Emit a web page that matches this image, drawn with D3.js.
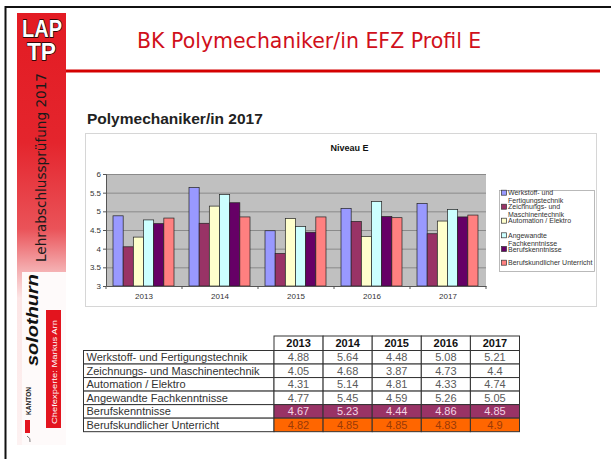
<!DOCTYPE html>
<html><head><meta charset="utf-8">
<script src="https://cdn.jsdelivr.net/npm/d3@7"></script>
<style>html,body{margin:0;padding:0;background:#fff;}svg{display:block;}</style>
</head><body>
<svg id="c" width="611" height="459"></svg>
<script>
const years = ["2013","2014","2015","2016","2017"];
const seriesNames = ["Werkstoff- und Fertigungstechnik","Zeichnungs- und Maschinentechnik","Automation / Elektro","Angewandte Fachkenntnisse","Berufskenntnisse","Berufskundlicher Unterricht"];
const legendLines = [["Werkstoff- und","Fertigungstechnik"],["Zeichnungs- und","Maschinentechnik"],["Automation / Elektro"],["Angewandte","Fachkenntnisse"],["Berufskenntnisse"],["Berufskundlicher Unterricht"]];
const werkstoff = [4.88,5.64,4.48,5.08,5.21];
const zeichnungs = [4.05,4.68,3.87,4.73,4.4];
const automation = [4.31,5.14,4.81,4.33,4.74];
const angewandte = [4.77,5.45,4.59,5.26,5.05];
const berufskenntnisse = [4.67,5.23,4.44,4.86,4.85];
const berufskundlicher = [4.82,4.85,4.85,4.83,4.9];
const seriesValues = [werkstoff,zeichnungs,automation,angewandte,berufskenntnisse,berufskundlicher];
const yTicks = [3,3.5,4,4.5,5,5.5,6];
const colors = ["#9999ff","#993366","#ffffcc","#ccffff","#660066","#ff8080"];

const svg = d3.select("#c");
const W=611,H=459;
svg.append("rect").attr("width",W).attr("height",H).attr("fill","#fff");

// ---------- slide frame ----------
const defs = svg.append("defs");
const g1 = defs.append("linearGradient").attr("id","sb").attr("x1",0).attr("y1",0).attr("x2",0).attr("y2",1);
[[0,"#e31b23"],[0.3,"#e4252d"],[0.5,"#ea5359"],[0.6,"#f5b3b5"],[0.66,"#fce6e6"],[1,"#fdf2f2"]].forEach(s=>g1.append("stop").attr("offset",s[0]).attr("stop-color",s[1]));
svg.append("rect").attr("x",17).attr("y",13).attr("width",49).attr("height",432).attr("fill","url(#sb)");
svg.append("rect").attr("x",22).attr("y",272).attr("width",44).attr("height",173).attr("fill","#fefafa");
svg.append("line").attr("x1",5).attr("x2",611).attr("y1",7).attr("y2",7).attr("stroke","#111").attr("stroke-width",2);
svg.append("line").attr("x1",5.5).attr("x2",5.5).attr("y1",6).attr("y2",459).attr("stroke","#111").attr("stroke-width",2);
svg.append("line").attr("x1",66).attr("x2",600).attr("y1",71).attr("y2",71).attr("stroke","#d40000").attr("stroke-width",3);

const lap = svg.append("g").attr("font-family","Liberation Sans, Arial, sans-serif").attr("font-weight","bold").attr("font-size",23)
  .attr("fill","#fff").attr("stroke","#000").attr("stroke-width",1.3).attr("paint-order","stroke").attr("text-anchor","middle");
lap.append("text").attr("x",42).attr("y",37).attr("textLength",40).attr("lengthAdjust","spacingAndGlyphs").text("LAP");
lap.append("text").attr("x",41.5).attr("y",60).attr("textLength",29).attr("lengthAdjust","spacingAndGlyphs").text("TP");

svg.append("text").attr("transform","translate(46,262) rotate(-90)").attr("font-family","DejaVu Sans, Verdana, sans-serif")
  .attr("font-size",13.6).attr("fill","#1a1a1a").text("Lehrabschlussprüfung 2017");
svg.append("text").attr("transform","translate(37.5,366) rotate(-90)").attr("font-family","Liberation Sans, Arial, sans-serif")
  .attr("font-size",16).attr("font-weight","bold").attr("font-style","italic").attr("fill","#111")
  .attr("textLength",92).attr("lengthAdjust","spacingAndGlyphs").text("solothurn");
svg.append("text").attr("transform","translate(31,415) rotate(-90)").attr("font-family","Liberation Sans, Arial, sans-serif")
  .attr("font-size",6.5).attr("font-weight","bold").attr("fill","#222")
  .attr("textLength",28).attr("lengthAdjust","spacing").text("KANTON");
svg.append("rect").attr("x",46).attr("y",310).attr("width",15).attr("height",118).attr("fill","#e3141e");
svg.append("text").attr("transform","translate(56.5,424) rotate(-90)").attr("font-family","Liberation Sans, Arial, sans-serif")
  .attr("font-size",7).attr("fill","#fff").attr("textLength",104).attr("lengthAdjust","spacingAndGlyphs").text("Chefexperte: Markus Arn");
svg.append("rect").attr("x",25).attr("y",420).attr("width",5).attr("height",13).attr("fill","#e3141e");
svg.append("path").attr("d","M27,436 Q31,438 30,442").attr("fill","none").attr("stroke","#555").attr("stroke-width",0.8);

svg.append("text").attr("x",137).attr("y",48).attr("font-family","DejaVu Sans, Verdana, sans-serif")
  .attr("font-size",20.5).attr("fill","#d0101b").text("BK Polymechaniker/in EFZ Profil E");

// ---------- chart ----------
svg.append("text").attr("x",87).attr("y",124).attr("font-family","Liberation Sans, Arial, sans-serif")
  .attr("font-size",15.5).attr("font-weight","bold").attr("fill","#222").text("Polymechaniker/in 2017");
svg.append("rect").attr("x",85.5).attr("y",133.5).attr("width",511).attr("height",173).attr("fill","#fff").attr("stroke","#d6d6d6");
svg.append("text").attr("x",349.5).attr("y",151).attr("text-anchor","middle").attr("font-family","Liberation Sans, Arial, sans-serif")
  .attr("font-size",9).attr("font-weight","bold").attr("fill","#111").text("Niveau E");

const px0=106, px1=486, py0=174, py1=286;
const y = d3.scaleLinear().domain([3,6]).range([py1,py0]);
const x0 = d3.scaleBand().domain(years).range([px0,px1]).padding(0);
const x1 = d3.scaleBand().domain(seriesNames).range([7, x0.bandwidth()-8]).padding(0);

svg.append("rect").attr("x",px0).attr("y",py0).attr("width",px1-px0).attr("height",py1-py0).attr("fill","#c0c0c0");
svg.append("g").selectAll("line").data(yTicks.slice(1)).join("line")
  .attr("x1",px0).attr("x2",px1).attr("y1",d=>y(d)+0.5).attr("y2",d=>y(d)+0.5).attr("stroke","#8a8a8a").attr("stroke-width",1);

const groups = svg.append("g").selectAll("g").data(years).join("g").attr("transform",d=>`translate(${x0(d)},0)`);
groups.selectAll("rect").data((yr,i)=>seriesNames.map((s,k)=>({s,k,v:seriesValues[k][i]}))).join("rect")
  .attr("x",d=>x1(d.s)).attr("width",x1.bandwidth())
  .attr("y",d=>y(d.v)).attr("height",d=>y(3)-y(d.v))
  .attr("fill",d=>colors[d.k]).attr("stroke","#222").attr("stroke-width",0.7);

const yAxis = svg.append("g").attr("transform",`translate(${px0},0)`)
  .call(d3.axisLeft(y).tickValues(yTicks).tickSize(3).tickPadding(2).tickFormat(d3.format("~g")));
const xAxis = svg.append("g").attr("transform",`translate(0,${py1})`)
  .call(d3.axisBottom(x0).tickSize(0).tickPadding(7));
[yAxis,xAxis].forEach(a=>{
  a.selectAll("path").attr("stroke","#555");
  a.selectAll("line").attr("stroke","#555");
  a.selectAll("text").attr("font-family","Liberation Sans, Arial, sans-serif").attr("font-size",8).attr("fill","#333");
});
xAxis.selectAll("line.bnd").data(years.concat(["end"])).join("line").attr("class","bnd")
  .attr("x1",(d,i)=>px0+i*x0.bandwidth()).attr("x2",(d,i)=>px0+i*x0.bandwidth()).attr("y1",0).attr("y2",3).attr("stroke","#555");

// legend
svg.append("rect").attr("x",499.5).attr("y",190.5).attr("width",95).attr("height",81).attr("fill","#fff").attr("stroke","#a8a8a8").attr("stroke-width",0.8);
const legCy = [192.7,206.7,220.7,235.3,249,262.7];
const leg = svg.append("g").selectAll("g").data(legendLines).join("g").attr("transform",(d,i)=>`translate(0,${legCy[i]})`);
leg.append("rect").attr("x",501.5).attr("y",-2.5).attr("width",5).attr("height",5).attr("fill",(d,i)=>colors[i]).attr("stroke","#333").attr("stroke-width",0.7);
leg.selectAll("text").data(d=>d).join("text").attr("x",508).attr("y",(d,j)=>2.5+j*8.3)
  .attr("font-family","Liberation Sans, Arial, sans-serif").attr("font-size",7).attr("fill","#333").text(d=>d);

// ---------- table ----------
const tx0=83.5, labelW=190.5, colW=49.1, hy=336, ry0=350.5, rh=13.53;
const tbl = svg.append("g").attr("font-family","Liberation Sans, Arial, sans-serif").attr("font-size",11);
const rowStyles = [null,null,null,null,{bg:"#993366",fg:"#f3d6e6"},{bg:"#ff6600",fg:"#9a3a08"}];
years.forEach((yr,j)=>{
  const cx = tx0+labelW+j*colW;
  tbl.append("rect").attr("x",cx).attr("y",hy).attr("width",colW).attr("height",ry0-hy).attr("fill","#fff").attr("stroke","#333");
  tbl.append("text").attr("x",cx+colW/2).attr("y",hy+11).attr("text-anchor","middle").attr("font-weight","bold").attr("fill","#111").text(yr);
});
seriesNames.forEach((s,i)=>{
  const ry = ry0+i*rh;
  const st = rowStyles[i];
  tbl.append("rect").attr("x",tx0).attr("y",ry).attr("width",labelW).attr("height",rh).attr("fill","#fff").attr("stroke","#333");
  tbl.append("text").attr("x",tx0+3).attr("y",ry+rh/2+4).attr("fill","#333").text(s);
  seriesValues[i].forEach((v,j)=>{
    const cx = tx0+labelW+j*colW;
    tbl.append("rect").attr("x",cx).attr("y",ry).attr("width",colW).attr("height",rh).attr("fill",st?st.bg:"#fff").attr("stroke","#333");
    tbl.append("text").attr("x",cx+colW/2).attr("y",ry+rh/2+4).attr("text-anchor","middle").attr("fill",st?st.fg:"#5a5a5a").text(v);
  });
});
</script>
</body></html>
